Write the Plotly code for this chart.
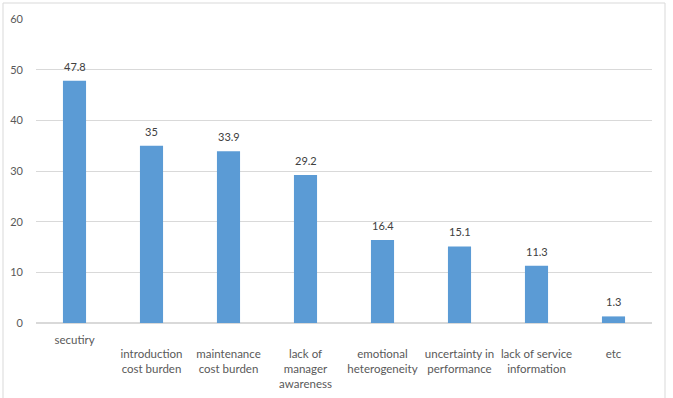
import plotly.graph_objects as go

categories = ["secutiry", "introduction<br>cost burden", "maintenance<br>cost burden",
              "lack of<br>manager<br>awareness", "emotional<br>heterogeneity",
              "uncertainty in<br>performance", "lack of service<br>information", "etc"]
values = [47.8, 35, 33.9, 29.2, 16.4, 15.1, 11.3, 1.3]
tick_vals = [0, 10, 20, 30, 40, 50, 60]

xs = list(range(len(categories)))
ticktext = [c if i == 0 else "<br>" + c for i, c in enumerate(categories)]

fig = go.Figure()
fig.add_trace(go.Bar(x=xs, y=values, marker=dict(color="#5B9BD5", line=dict(width=0)),
                     width=0.3, hoverinfo="skip"))

for x, v in zip(xs, values):
    fig.add_annotation(x=x, y=v, text=f"{v:g}", showarrow=False, yanchor="bottom",
                       yshift=6, font=dict(size=11, color="#404040", family="Lato"))

# outer border
fig.add_shape(type="rect", xref="paper", yref="paper",
              x0=(3 - 36) / 616, x1=(665 - 36) / 616,
              y0=(323 - 400) / 304, y1=(323 - 3) / 304,
              line=dict(color="#d9d9d9", width=1), layer="below")

fig.update_layout(
    width=673, height=398,
    margin=dict(l=36, r=21, t=19, b=75),
    plot_bgcolor="white", paper_bgcolor="white",
    showlegend=False,
    font=dict(family="Lato", size=11, color="#595959"),
    xaxis=dict(tickmode="array", tickvals=xs, ticktext=ticktext, range=[-0.5, 7.5],
               showgrid=False, zeroline=False, showline=False, ticks="",
               ticklabelstandoff=8, automargin=False,
               tickfont=dict(size=11.5, color="#595959"), fixedrange=True),
    yaxis=dict(range=[0, 60], tickvals=tick_vals, showgrid=True, gridcolor="#d9d9d9",
               gridwidth=1, zeroline=True, zerolinecolor="#d9d9d9", showline=False,
               ticks="", ticklabelstandoff=12, automargin=False,
               tickfont=dict(size=11, color="#595959"), fixedrange=True),
)

fig.write_html("out.html")
